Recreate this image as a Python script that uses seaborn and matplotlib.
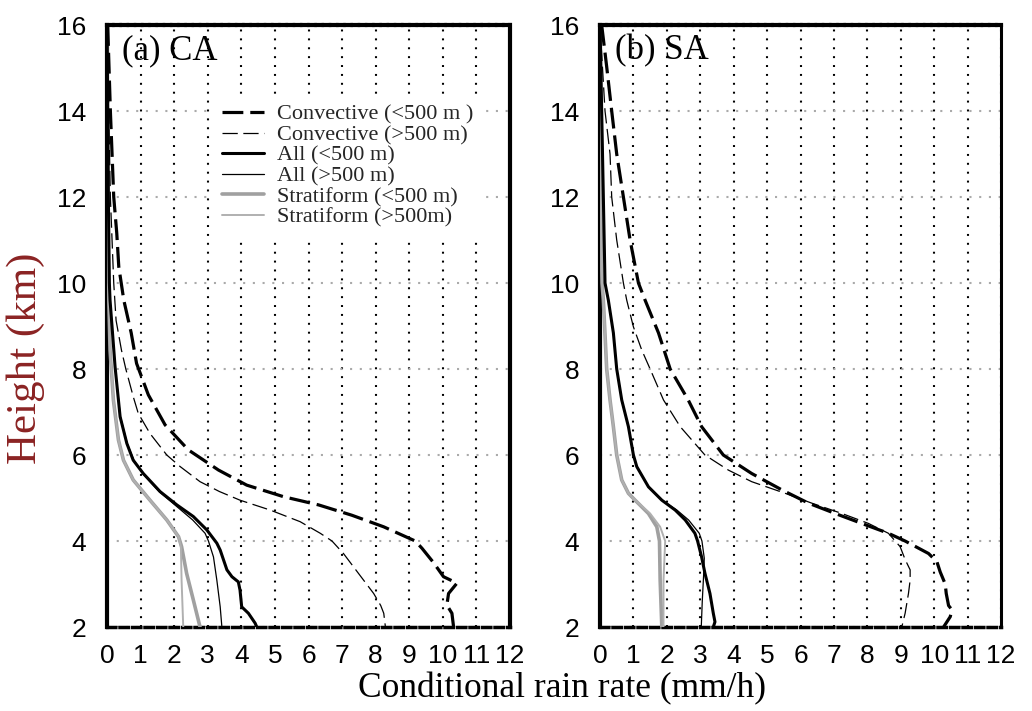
import matplotlib
matplotlib.use("Agg")
import matplotlib.pyplot as plt
import pandas as pd
import seaborn as sns

sns.set_theme(style="white")
plt.rcParams["font.family"] = ["Liberation Serif", "DejaVu Serif"]
plt.rcParams["lines.scale_dashes"] = False

# ---------------- data ----------------
series_labels = ["Convective (<500 m )", "Convective (>500 m)", "All (<500 m)",
                 "All (>500 m)", "Stratiform (<500 m)", "Stratiform (>500m)"]
x_ticks = list(range(0, 13))
y_ticks = list(range(2, 17, 2))

# Panel (a) CA
conv_lt_a_h = [16.0, 15.0, 14.0, 13.0, 12.0, 11.16, 10.38, 9.6, 8.84, 8.13, 7.4, 6.7, 6.12, 5.65,
               5.3, 5.03, 4.84, 4.6, 4.33, 4.0, 3.83, 3.5, 3.17, 3.02, 2.78, 2.51, 2.32, 2.0]
conv_lt_a_r = [0.02, 0.06, 0.10, 0.15, 0.20, 0.29, 0.35, 0.50, 0.72, 0.88, 1.23, 1.73, 2.42, 3.32,
               4.16, 5.26, 6.30, 7.29, 8.24, 9.18, 9.38, 9.72, 10.02, 10.42, 10.17, 10.12, 10.27, 10.32]
conv_gt_a_h = [16.0, 14.0, 12.0, 11.0, 10.0, 9.13, 8.44, 8.0, 7.36, 6.97, 6.5, 6.0, 5.73, 5.38,
               5.15, 4.95, 4.72, 4.45, 4.18, 4.0, 3.7, 3.4, 3.09, 2.78, 2.5, 2.32, 2.0]
conv_gt_a_r = [0.0, 0.05, 0.10, 0.15, 0.20, 0.27, 0.43, 0.56, 0.78, 0.93, 1.28, 1.78, 2.18, 2.77,
               3.35, 3.96, 4.86, 5.75, 6.35, 6.70, 7.05, 7.34, 7.64, 7.94, 8.15, 8.24, 8.29]
all_lt_a_h = [16.0, 14.0, 12.0, 10.0, 9.6, 8.05, 6.89, 6.27, 5.88, 5.57, 5.15, 4.84, 4.57, 4.26,
              3.95, 3.79, 3.33, 3.17, 3.05, 2.86, 2.47, 2.32, 2.09, 2.0]
all_lt_a_r = [0.0, 0.02, 0.04, 0.07, 0.09, 0.24, 0.39, 0.59, 0.78, 1.08, 1.58, 2.08, 2.57, 2.97,
              3.27, 3.37, 3.57, 3.72, 3.91, 3.96, 4.01, 4.21, 4.41, 4.46]
all_gt_a_h = [16.0, 14.0, 12.0, 10.0, 9.6, 8.05, 6.89, 6.27, 5.88, 5.57, 5.15, 4.84, 4.49, 4.18,
              4.0, 3.63, 3.09, 2.47, 2.0]
all_gt_a_r = [0.0, 0.02, 0.04, 0.07, 0.09, 0.24, 0.40, 0.60, 0.80, 1.06, 1.55, 2.02, 2.55, 2.92,
              3.02, 3.17, 3.27, 3.37, 3.42]
strat_lt_a_h = [16.0, 12.0, 10.0, 8.44, 7.28, 6.35, 5.88, 5.42, 4.95, 4.49, 4.1, 3.87, 3.25, 2.63, 2.0]
strat_lt_a_r = [0.0, 0.02, 0.04, 0.09, 0.19, 0.34, 0.49, 0.78, 1.28, 1.78, 2.13, 2.22, 2.37, 2.57, 2.77]
strat_gt_a_h = [16.0, 12.0, 10.0, 8.44, 7.28, 6.35, 5.88, 5.42, 4.95, 4.49, 4.1, 3.87, 3.09, 2.0]
strat_gt_a_r = [0.0, 0.02, 0.04, 0.09, 0.19, 0.34, 0.49, 0.78, 1.28, 1.78, 2.13, 2.20, 2.22, 2.27]

# Panel (b) SA
conv_lt_b_h = [16.0, 15.03, 14.0, 13.0, 12.0, 11.0, 10.0, 9.6, 8.84, 8.0, 7.28, 6.66, 6.0, 5.57,
               5.19, 4.88, 4.64, 4.41, 4.18, 4.0, 3.71, 3.52, 3.28, 3.0, 2.78, 2.5, 2.4, 2.24, 2.0]
conv_lt_b_r = [0.05, 0.20, 0.35, 0.50, 0.70, 0.90, 1.15, 1.35, 1.75, 2.10, 2.64, 3.04, 3.69, 4.54,
               5.44, 6.24, 7.04, 7.83, 8.63, 9.13, 9.83, 10.08, 10.18, 10.33, 10.36, 10.43, 10.53, 10.48, 10.28]
conv_gt_b_h = [16.0, 14.0, 13.0, 12.0, 11.0, 10.0, 9.6, 8.98, 8.44, 8.0, 7.28, 6.66, 6.0, 5.65,
               5.38, 5.11, 4.88, 4.64, 4.41, 4.18, 3.87, 3.57, 3.33, 3.09, 2.78, 2.32, 2.0]
conv_gt_b_r = [0.0, 0.15, 0.30, 0.35, 0.50, 0.70, 0.80, 1.00, 1.25, 1.50, 1.90, 2.40, 3.14, 3.84,
               4.54, 5.54, 6.34, 7.24, 8.03, 8.63, 8.98, 9.13, 9.28, 9.28, 9.23, 9.13, 9.03]
all_lt_b_h = [16.0, 14.0, 12.0, 10.0, 9.6, 8.84, 8.0, 7.28, 6.66, 6.0, 5.73, 5.26, 4.95, 4.72,
              4.49, 4.18, 4.0, 3.63, 3.25, 2.78, 2.32, 2.12, 2.0]
all_lt_b_r = [0.0, 0.05, 0.10, 0.15, 0.25, 0.40, 0.50, 0.65, 0.85, 1.00, 1.10, 1.45, 1.85, 2.25,
              2.55, 2.84, 2.92, 3.04, 3.14, 3.29, 3.39, 3.44, 3.39]
all_gt_b_h = [16.0, 14.0, 12.0, 10.0, 9.6, 8.84, 8.0, 7.28, 6.66, 6.0, 5.73, 5.26, 4.95, 4.72,
              4.49, 4.18, 4.0, 3.6, 3.2, 2.6, 2.0]
all_gt_b_r = [0.0, 0.05, 0.10, 0.15, 0.25, 0.40, 0.50, 0.65, 0.85, 1.00, 1.10, 1.45, 1.85, 2.30,
              2.65, 2.97, 3.05, 3.12, 3.10, 3.06, 3.03]
strat_lt_b_h = [16.0, 12.0, 10.0, 9.6, 8.0, 7.28, 6.66, 6.0, 5.42, 5.11, 4.95, 4.64, 4.33, 4.0, 3.09, 2.0]
strat_lt_b_r = [0.0, 0.02, 0.06, 0.10, 0.20, 0.30, 0.40, 0.50, 0.65, 0.85, 1.05, 1.45, 1.70, 1.78, 1.80, 1.85]
strat_gt_b_h = [16.0, 12.0, 10.0, 9.6, 8.0, 7.28, 6.66, 6.0, 5.42, 5.11, 4.95, 4.64, 4.33, 4.0, 3.09, 2.0]
strat_gt_b_r = [0.0, 0.02, 0.06, 0.10, 0.20, 0.30, 0.40, 0.50, 0.65, 0.85, 1.05, 1.50, 1.80, 1.95, 1.90, 1.90]

panel_a = [(conv_lt_a_h, conv_lt_a_r), (conv_gt_a_h, conv_gt_a_r), (all_lt_a_h, all_lt_a_r),
           (all_gt_a_h, all_gt_a_r), (strat_lt_a_h, strat_lt_a_r), (strat_gt_a_h, strat_gt_a_r)]
panel_b = [(conv_lt_b_h, conv_lt_b_r), (conv_gt_b_h, conv_gt_b_r), (all_lt_b_h, all_lt_b_r),
           (all_gt_b_h, all_gt_b_r), (strat_lt_b_h, strat_lt_b_r), (strat_gt_b_h, strat_gt_b_r)]

# ---------------- styles ----------------
styles = [
    dict(color="black", linewidth=2.3, linestyle=(0, (15, 5)), zorder=6),
    dict(color="black", linewidth=0.9, linestyle=(0, (11, 4)), zorder=6),
    dict(color="black", linewidth=2.2, linestyle="-", zorder=5),
    dict(color="black", linewidth=0.9, linestyle="-", zorder=5),
    dict(color="#a0a0a0", linewidth=2.6, linestyle="-", zorder=4),
    dict(color="#b0b0b0", linewidth=1.4, linestyle="-", zorder=4),
]

fig = plt.figure(figsize=(10.32, 7.11), dpi=100)
ax_a = fig.add_axes([0.1037, 0.1181, 0.3905, 0.8467])
ax_b = fig.add_axes([0.5814, 0.1181, 0.3886, 0.8467])

for ax, panel, title, rwidth in [(ax_a, panel_a, "(a) CA", 3.0), (ax_b, panel_b, "(b) SA", 2.2)]:
    for (h, r), lab, st in zip(panel, series_labels, styles):
        df = pd.DataFrame({"rate": r, "height": h})
        sns.lineplot(data=df, x="rate", y="height", ax=ax, sort=False, estimator=None,
                     legend=False, label=lab, **st)
    ax.set_xlim(0, 12)
    ax.set_ylim(2, 16)
    ax.set_xticks(x_ticks, labels=[str(t) for t in x_ticks], fontfamily="Liberation Sans")
    ax.set_yticks(y_ticks, labels=[str(t) for t in y_ticks], fontfamily="Liberation Sans")
    ax.tick_params(axis="both", direction="out", length=9, width=2, labelsize=19,
                   color="black", labelcolor="black")
    ax.tick_params(axis="x", pad=3)
    ax.tick_params(axis="y", pad=6)
    ax.set_xlabel("")
    ax.set_ylabel("")
    ax.set_axisbelow(True)
    ax.xaxis.grid(True, color="black", linestyle=(0, (1.4, 5)), linewidth=1.5)
    ax.yaxis.grid(True, color="#aaaaaa", linestyle=(0, (1.5, 5.5)), linewidth=1.5)
    for s in ax.spines.values():
        s.set_color("black")
    ax.spines["left"].set_linewidth(3)
    ax.spines["right"].set_linewidth(rwidth)
    ax.spines["top"].set_linewidth(3)
    ax.spines["top"].set_linestyle((0, (4, 1.2)))
    ax.spines["bottom"].set_linewidth(2.5)
    ax.spines["bottom"].set_linestyle((0, (6, 3)))
    ax.text(0.037, 0.985, title, transform=ax.transAxes, ha="left", va="top",
            fontsize=25, color="black", zorder=10)

handles, labels = ax_a.get_legend_handles_labels()
leg = ax_a.legend(handles, labels, loc="upper left", bbox_to_anchor=(0.26, 0.885),
                  borderaxespad=0, borderpad=0.45, frameon=True, fancybox=False,
                  facecolor="white", edgecolor="none", framealpha=1,
                  fontsize=16, labelspacing=0.0, handlelength=1.9, handletextpad=0.6)
leg.set_zorder(8)

fig.text(26 / 1032, 1 - 358 / 711, "Height (km)", rotation=90, ha="center", va="center",
         fontsize=31, color="#8B2323")
fig.text(562 / 1032, 1 - 689 / 711, "Conditional rain rate (mm/h)", ha="center", va="center",
         fontsize=25.5, color="black")

fig.savefig("out.png", dpi=100)
